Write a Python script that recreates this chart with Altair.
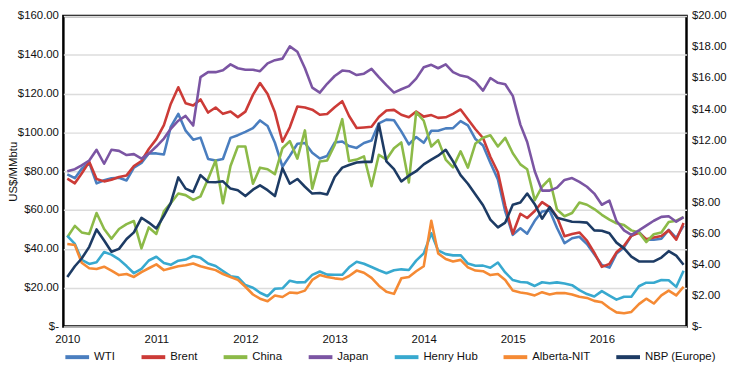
import altair as alt
import pandas as pd

months = [d.strftime("%Y-%m-%dT00:00:00") for d in pd.date_range("2010-01-01", periods=84, freq="MS")]

series_names = ["WTI", "Brent", "China", "Japan", "Henry Hub", "Alberta-NIT", "NBP (Europe)"]
series_colors = ["#4a7ebf", "#cc3b37", "#8cba48", "#7b55a3", "#38a9cf", "#f58a34", "#1d3b64"]

# Oil (left axis)
wti = [78.33, 76.39, 81.20, 84.29, 73.74, 75.34, 76.32, 76.60, 75.24, 81.89, 84.25, 89.15,
       89.17, 88.58, 102.86, 109.53, 100.90, 96.26, 97.30, 86.33, 85.52, 86.32, 97.16, 98.56,
       100.27, 102.20, 106.16, 103.32, 94.66, 82.30, 87.90, 94.13, 94.51, 89.49, 86.53, 87.86,
       94.76, 95.31, 92.94, 92.02, 94.51, 95.77, 104.67, 106.57, 106.29, 100.54, 93.86, 97.63,
       94.62, 100.82, 100.80, 102.07, 102.18, 105.79, 103.59, 96.54, 93.21, 84.40, 75.79, 59.29,
       47.22, 50.58, 47.82, 54.45, 59.27, 59.82, 50.90, 42.87, 45.48, 46.22, 42.44, 37.19,
       31.68, 30.32, 37.55, 40.75, 46.71, 48.76, 44.65, 44.72, 45.18, 49.78, 45.66, 51.97]
brent = [76.17, 73.75, 78.83, 84.82, 75.95, 74.76, 75.58, 77.04, 77.84, 82.67, 85.28, 91.45,
         96.52, 103.72, 114.64, 123.26, 114.99, 113.83, 116.97, 110.22, 112.83, 109.55, 110.77, 107.87,
         110.69, 119.33, 125.45, 119.75, 110.34, 95.16, 102.62, 113.36, 112.86, 111.71, 109.06, 109.49,
         112.96, 116.05, 108.47, 102.25, 102.56, 102.92, 107.93, 111.28, 111.60, 109.08, 107.79, 110.76,
         108.12, 108.90, 107.48, 107.76, 109.54, 111.80, 106.77, 101.61, 97.09, 87.43, 79.44, 62.34,
         47.76, 58.10, 55.89, 59.52, 64.08, 61.48, 56.56, 46.52, 47.62, 48.43, 44.27, 38.01,
         30.70, 32.18, 38.21, 41.58, 46.74, 48.25, 44.95, 45.84, 46.57, 49.52, 44.73, 53.31]

# Gas (right axis, US$/MMbtu)
china = [5.75, 6.48, 6.06, 5.96, 7.31, 6.28, 5.65, 6.28, 6.59, 6.79, 5.03, 6.38,
         5.96, 7.41, 7.94, 8.56, 8.46, 8.15, 8.38, 9.50, 10.69, 7.94, 10.34, 11.59,
         11.59, 9.19, 10.23, 10.13, 9.81, 11.48, 11.94, 10.81, 12.63, 8.88, 10.63, 10.69,
         11.69, 13.35, 10.65, 10.75, 10.96, 9.03, 11.06, 10.75, 11.48, 11.85, 9.28, 13.81,
         13.25, 11.59, 12.00, 10.75, 10.25, 11.28, 10.23, 11.79, 12.15, 12.31, 11.59, 12.15,
         11.16, 10.44, 10.13, 8.13, 9.00, 9.50, 7.53, 7.10, 7.31, 7.98, 7.84, 7.56,
         7.19, 6.88, 6.65, 6.53, 6.19, 6.06, 5.44, 5.94, 6.06, 6.73, 6.81, 7.04]
japan = [10.00, 10.13, 10.38, 10.69, 11.38, 10.48, 11.38, 11.31, 11.04, 11.10, 10.81, 11.13,
         11.59, 12.10, 12.73, 13.25, 13.56, 12.94, 16.06, 16.38, 16.38, 16.50, 16.88, 16.63,
         16.53, 16.53, 16.44, 16.94, 17.15, 17.25, 18.04, 17.69, 16.63, 15.38, 15.06, 15.63,
         16.13, 16.48, 16.44, 16.19, 16.28, 16.59, 16.06, 15.54, 15.06, 15.28, 15.48, 15.96,
         16.69, 16.85, 16.63, 16.88, 16.38, 16.16, 16.06, 15.75, 15.19, 16.00, 15.69, 15.60,
         14.85, 13.00, 11.88, 10.00, 8.75, 8.75, 8.94, 9.44, 9.56, 9.31, 9.00, 8.56,
         7.84, 8.10, 6.79, 6.19, 5.90, 6.19, 6.50, 6.81, 7.06, 7.10, 6.75, 7.04]
henry_hub = [5.83, 5.32, 4.29, 4.03, 4.14, 4.80, 4.63, 4.32, 3.89, 3.43, 3.71, 4.25,
             4.49, 4.09, 3.97, 4.24, 4.31, 4.54, 4.42, 4.06, 3.90, 3.57, 3.24, 3.17,
             2.67, 2.50, 2.17, 1.95, 2.43, 2.46, 2.95, 2.84, 2.85, 3.32, 3.54, 3.34,
             3.33, 3.33, 3.81, 4.17, 4.04, 3.83, 3.62, 3.43, 3.62, 3.68, 3.64, 4.24,
             4.71, 6.00, 4.90, 4.66, 4.58, 4.59, 4.05, 3.91, 3.92, 3.78, 4.12, 3.48,
             2.99, 2.87, 2.83, 2.61, 2.85, 2.78, 2.84, 2.77, 2.66, 2.34, 2.09, 1.93,
             2.28, 1.99, 1.73, 1.92, 1.92, 2.59, 2.82, 2.82, 2.99, 2.98, 2.55, 3.59]
alberta = [5.31, 5.25, 4.10, 3.75, 3.70, 3.85, 3.60, 3.31, 3.38, 3.19, 3.50, 3.75,
           4.00, 3.63, 3.75, 3.88, 3.94, 4.06, 3.88, 3.75, 3.63, 3.38, 3.19, 3.00,
           2.56, 2.06, 1.79, 1.63, 2.00, 1.90, 2.19, 2.15, 2.31, 3.00, 3.31, 3.19,
           3.10, 3.04, 3.25, 3.60, 3.46, 3.13, 2.63, 2.23, 2.10, 3.10, 3.19, 3.56,
           3.88, 6.81, 4.71, 4.34, 4.19, 4.29, 3.81, 3.60, 3.56, 3.31, 3.38, 3.00,
           2.31, 2.19, 2.13, 2.00, 2.21, 2.06, 2.15, 2.15, 2.06, 1.91, 1.84, 1.65,
           1.56, 1.19, 0.91, 0.85, 0.94, 1.44, 1.79, 1.48, 2.00, 2.31, 2.00, 2.56]
nbp = [3.19, 3.88, 4.38, 5.13, 6.25, 5.54, 4.81, 5.00, 5.63, 6.06, 7.00, 6.69,
       6.31, 7.13, 7.94, 9.60, 8.88, 8.66, 9.75, 9.31, 9.29, 9.35, 8.88, 8.78,
       8.40, 8.81, 9.09, 8.78, 8.40, 10.19, 9.19, 9.50, 9.00, 8.56, 8.60, 8.50,
       9.63, 10.23, 10.40, 10.56, 10.60, 10.60, 13.04, 10.63, 10.13, 9.34, 9.71, 10.00,
       10.44, 10.75, 11.00, 11.38, 10.63, 9.75, 9.19, 8.50, 7.81, 6.88, 6.38, 6.69,
       7.84, 7.98, 8.56, 7.88, 6.94, 7.69, 7.00, 6.88, 6.75, 6.73, 6.69, 6.19,
       6.16, 6.00, 5.40, 5.03, 4.50, 4.19, 4.19, 4.19, 4.44, 4.85, 4.56, 3.98]

def long(pairs):
    rows = []
    for name, vals in pairs:
        for m, v in zip(months, vals):
            rows.append({"series": name, "date": m, "value": v})
    return pd.DataFrame(rows)

oil_df = long([("WTI", wti), ("Brent", brent)])
gas_df = long([("China", china), ("Japan", japan), ("Henry Hub", henry_hub),
               ("Alberta-NIT", alberta), ("NBP (Europe)", nbp)])

FONT = "Liberation Sans, Arial, sans-serif"
FS = 11.5
money = "datum.value == 0 ? '$-' : '$' + format(datum.value, ',.2f')"

xscale = alt.Scale(domain=[alt.DateTime(year=2009, month=12, date=16),
                           alt.DateTime(year=2016, month=12, date=13)])
xaxis = alt.Axis(values=[alt.DateTime(year=y, month=1, date=1) for y in range(2010, 2017)],
                 format="%Y", ticks=False, domain=False, grid=False, labelPadding=7,
                 labelFontSize=FS, labelColor="#111111", title=None)

legend = alt.Legend(orient="none", legendX=0, legendY=331, direction="horizontal", title=None,
                    symbolType="stroke", symbolSize=576, symbolStrokeWidth=4,
                    labelFontSize=FS, labelColor="#111111", labelOffset=3, columnPadding=18)
color = alt.Color("series:N", scale=alt.Scale(domain=series_names, range=series_colors),
                  legend=legend, sort=series_names)

oil = alt.Chart(oil_df).mark_line(strokeWidth=2.6, strokeJoin="round").encode(
    x=alt.X("date:T", scale=xscale, axis=xaxis),
    y=alt.Y("value:Q", scale=alt.Scale(domain=[0, 160], nice=False, zero=True),
            axis=alt.Axis(values=list(range(0, 161, 20)), labelExpr=money, title="US$/MMbtu",
                          titleFontWeight="normal", titleFontSize=FS, titleX=-47,
                          titleBaseline="alphabetic", titleColor="#111111",
                          ticks=False, domain=False, grid=True, gridColor="#dcdcdc", gridWidth=1.5,
                          labelPadding=5, labelFontSize=FS, labelColor="#111111")),
    color=color,
)

gas = alt.Chart(gas_df).mark_line(strokeWidth=2.6, strokeJoin="round").encode(
    x=alt.X("date:T", scale=xscale, axis=xaxis),
    y=alt.Y("value:Q", scale=alt.Scale(domain=[0, 20], nice=False, zero=True),
            axis=alt.Axis(orient="right", values=list(range(0, 21, 2)), labelExpr=money, title=None,
                          ticks=False, domain=False, grid=False, labelPadding=5,
                          labelFontSize=FS, labelColor="#111111")),
    color=color,
)

chart = alt.layer(oil, gas).resolve_scale(y="independent").properties(
    width=630, height=314,
    autosize=alt.AutoSizeParams(type="none"),
    padding={"left": 56, "right": 46, "top": 6, "bottom": 44},
).configure(font=FONT).configure_view(stroke="black", strokeWidth=2.5)

chart.save("out.html", embed_options={"renderer": "svg", "actions": False})
